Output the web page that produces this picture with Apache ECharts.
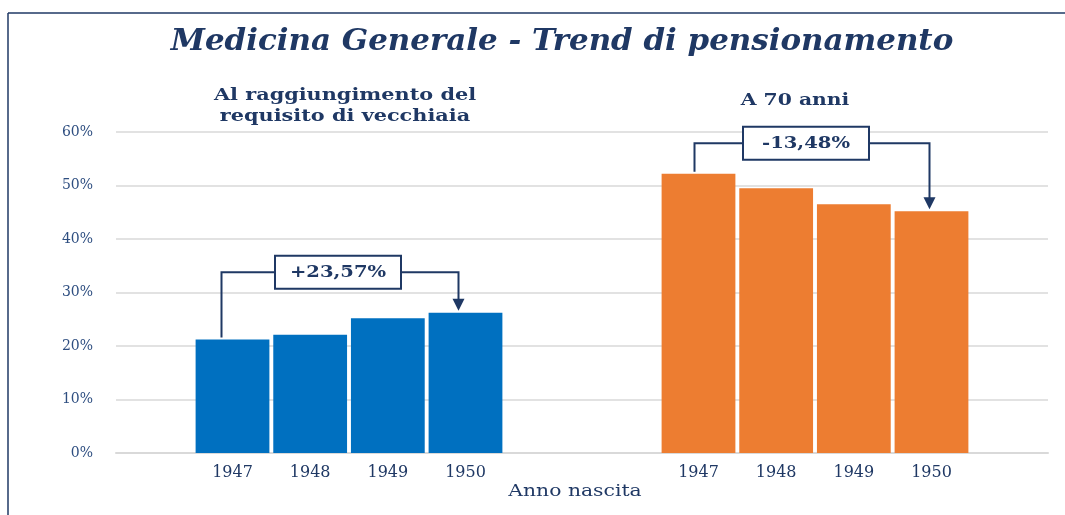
<!DOCTYPE html>
<html>
<head>
<meta charset="utf-8">
<script src="https://cdn.jsdelivr.net/npm/echarts@6/dist/echarts.min.js"></script>
<style>
  html, body { margin: 0; padding: 0; background: #fff; }
  #chart { width: 1065px; height: 515px; }
</style>
</head>
<body>
<div id="chart"></div>
<script>
// dati
const anni = ['1947', '1948', '1949', '1950'];
const vecchiaia = [21.2, 22.1, 25.2, 26.2];
const settantaAnni = [52.2, 49.5, 46.5, 45.2];
const yTicks = [0, 10, 20, 30, 40, 50, 60];

const navy = '#1f3864';
const serif = 'DejaVu Serif';

// 12 slot: vuoto, 4 anni, 2 vuoti, 4 anni, vuoto
const categorie = [''].concat(anni, ['', ''], anni, ['']);
const serieBlu = ['-'].concat(vecchiaia, ['-', '-'], anni.map(() => '-'), ['-']);
const serieArancio = ['-'].concat(anni.map(() => '-'), ['-', '-'], settantaAnni, ['-']);

const chart = echarts.init(document.getElementById('chart'));

chart.setOption({
    animation: false,
    grid: { left: 116, right: 17, top: 132, bottom: 62 },
    xAxis: {
        type: 'category',
        data: categorie,
        axisTick: { show: false },
        axisLine: { lineStyle: { color: '#d9d9d9', width: 2 } },
        axisLabel: { fontFamily: serif, fontSize: 16, color: navy, margin: 12, interval: 0 },
    },
    yAxis: {
        type: 'value',
        min: yTicks[0],
        max: yTicks[yTicks.length - 1],
        interval: 10,
        axisLabel: { formatter: '{value}%', fontFamily: serif, fontSize: 14, color: '#2e4e80', margin: 23 },
        splitLine: { lineStyle: { color: '#d9d9d9', width: 1.5 } },
        axisLine: { show: false },
        axisTick: { show: false },
    },
    series: [
        {
            name: 'Al raggiungimento del requisito di vecchiaia',
            type: 'bar',
            data: serieBlu,
            barWidth: '95%',
            barGap: '-100%',
            itemStyle: { color: '#0070c0' },
        },
        {
            name: 'A 70 anni',
            type: 'bar',
            data: serieArancio,
            barWidth: '95%',
            barGap: '-100%',
            itemStyle: { color: '#ed7d31' },
        },
    ],
});

// frecce di variazione tra 1947 e 1950
const annotazioni = [
    { serie: vecchiaia, primo: 1, ultimo: 4, testo: '+23,57%', livello: 33.8, dx0: -11, dx1: -7, boxDx: -2 },
    { serie: settantaAnni, primo: 7, ultimo: 10, testo: '-13,48%', livello: 57.9, dx0: -4, dx1: -2, boxDx: -6 },
];

// testo serif largo (il font originale è più largo di DejaVu)
function testo(x, y, t, size, weight, scaleX, extra) {
    return Object.assign({
        type: 'text', x: x, y: y, scaleX: scaleX,
        style: {
            text: t, align: 'center', verticalAlign: 'middle',
            fontFamily: serif, fontWeight: weight, fontSize: size, fill: navy,
        },
    }, extra || {});
}

const grafica = [
    // cornice in alto e a sinistra
    { type: 'line', shape: { x1: 8, y1: 13, x2: 1065, y2: 13 }, style: { stroke: navy, lineWidth: 1.5 } },
    { type: 'line', shape: { x1: 8, y1: 13, x2: 8, y2: 515 }, style: { stroke: navy, lineWidth: 1.5 } },
];
const titolo = testo(562, 42, 'Medicina Generale - Trend di pensionamento', 30, 'bold', 1.03);
titolo.style.fontStyle = 'italic';
grafica.push(titolo);
const sotto = testo(345, 106.5, 'Al raggiungimento del\nrequisito di vecchiaia', 16, 'bold', 1.3);
sotto.style.lineHeight = 21;
grafica.push(sotto);
grafica.push(testo(795, 101, 'A 70 anni', 16, 'bold', 1.27));
grafica.push(testo(575, 492, 'Anno nascita', 16, 'normal', 1.27));

annotazioni.forEach(a => {
    const p0 = chart.convertToPixel({ xAxisIndex: 0, yAxisIndex: 0 }, [a.primo, a.serie[0]]);
    const p1 = chart.convertToPixel({ xAxisIndex: 0, yAxisIndex: 0 }, [a.ultimo, a.serie[a.serie.length - 1]]);
    const yl = chart.convertToPixel({ yAxisIndex: 0 }, a.livello);
    const x0 = p0[0] + a.dx0;
    const x1 = p1[0] + a.dx1;
    const mid = (x0 + x1) / 2 + a.boxDx;
    const bw = 126, bh = 33;
    grafica.push(
        { type: 'polyline', shape: { points: [[x0, p0[1] - 2], [x0, yl], [mid - bw / 2, yl]] }, style: { stroke: navy, lineWidth: 2, fill: null } },
        { type: 'polyline', shape: { points: [[mid + bw / 2, yl], [x1, yl], [x1, p1[1] - 12]] }, style: { stroke: navy, lineWidth: 2, fill: null } },
        { type: 'polygon', shape: { points: [[x1 - 6, p1[1] - 14], [x1 + 6, p1[1] - 14], [x1, p1[1] - 2]] }, style: { fill: navy } },
        {
            type: 'rect', shape: { x: mid - bw / 2, y: yl - bh / 2, width: bw, height: bh },
            style: { fill: '#fff', stroke: navy, lineWidth: 2 },
        },
        testo(mid, yl, a.testo, 17, 'bold', 1.15)
    );
});

chart.setOption({ graphic: grafica });
</script>
</body>
</html>
